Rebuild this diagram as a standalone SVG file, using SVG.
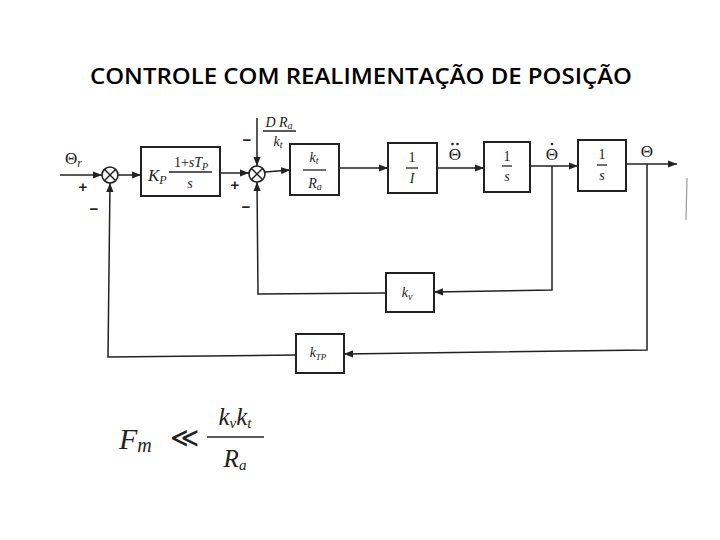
<svg xmlns="http://www.w3.org/2000/svg" width="720" height="540" viewBox="0 0 720 540">
<defs>
<marker id="ah" viewBox="0 0 10 10" refX="10" refY="5" markerWidth="9" markerHeight="9" markerUnits="userSpaceOnUse" orient="auto">
<path d="M0,1 L10,5 L0,9 Z" fill="#222"/>
</marker>
</defs>
<style>
.blk{fill:#fff;stroke:#222;stroke-width:2}
.sum{fill:#fff;stroke:#222;stroke-width:1.6}
.ln{fill:none;stroke:#222;stroke-width:1.5}
.ar{fill:none;stroke:#222;stroke-width:1.5;marker-end:url(#ah)}
.m{font-family:"Liberation Serif",serif;font-style:italic;fill:#222}
.n{font-family:"Liberation Serif",serif;fill:#222}
.sg{font-family:"Liberation Sans",sans-serif;font-weight:bold;fill:#222;font-size:15px}
.fr{stroke:#222;stroke-width:1.3}
.dot{fill:#222}
</style>
<rect width="720" height="540" fill="#fff"/>
<text x="361" y="84" text-anchor="middle" font-family="'Open Sans',sans-serif" font-weight="600" font-size="22" textLength="542" lengthAdjust="spacingAndGlyphs" fill="#000">CONTROLE COM REALIMENTAÇÃO DE POSIÇÃO</text>

<g id="connectors">
<line class="ar" x1="60" y1="175" x2="102" y2="175"/>
<line class="ar" x1="118" y1="175" x2="141" y2="175"/>
<line class="ar" x1="220" y1="173" x2="249" y2="173"/>
<line class="ar" x1="257" y1="118" x2="257" y2="166"/>
<line class="ar" x1="265" y1="172" x2="290" y2="170"/>
<line class="ar" x1="339" y1="168" x2="388" y2="168"/>
<line class="ar" x1="437" y1="168" x2="484" y2="168"/>
<line class="ar" x1="530" y1="166" x2="578" y2="166"/>
<line class="ar" x1="626" y1="164" x2="677" y2="164"/>
<polyline class="ar" points="552,166 552,290 434,292"/>
<polyline class="ar" points="386,293 258,294 257,182"/>
<polyline class="ar" points="647,164 647,350 344,354"/>
<polyline class="ar" points="296,355 108,357 110,183"/>
</g>

<g id="sum1">
<circle class="sum" cx="110" cy="175" r="8"/>
<line class="ln" x1="104.3" y1="169.3" x2="115.7" y2="180.7"/>
<line class="ln" x1="104.3" y1="180.7" x2="115.7" y2="169.3"/>
</g>
<g id="sum2">
<circle class="sum" cx="257" cy="174" r="8"/>
<line class="ln" x1="251.3" y1="168.3" x2="262.7" y2="179.7"/>
<line class="ln" x1="251.3" y1="179.7" x2="262.7" y2="168.3"/>
</g>

<g id="signs">
<text class="sg" x="83" y="192" text-anchor="middle">+</text>
<text class="sg" x="94" y="214" text-anchor="middle">−</text>
<text class="sg" x="235" y="190" text-anchor="middle">+</text>
<text class="sg" x="247" y="145" text-anchor="middle">−</text>
<text class="sg" x="246" y="212" text-anchor="middle">−</text>
</g>

<g id="labels">
<text class="n" x="65" y="164" font-size="17">Θ<tspan class="m" font-size="12" dy="3">r</tspan></text>
<text class="n" x="455" y="160" font-size="17" text-anchor="middle">Θ</text>
<circle class="dot" cx="452.5" cy="144" r="1.3"/>
<circle class="dot" cx="457.5" cy="144" r="1.3"/>
<text class="n" x="552" y="160" font-size="17" text-anchor="middle">Θ</text>
<circle class="dot" cx="552" cy="144" r="1.3"/>
<text class="n" x="647" y="157" font-size="17" text-anchor="middle">Θ</text>
</g>

<g id="disturbance">
<text class="m" x="279" y="127" font-size="14" text-anchor="middle">D R<tspan font-size="10" dy="2">a</tspan></text>
<line class="fr" x1="263" y1="131" x2="296" y2="131"/>
<text class="m" x="278" y="146" font-size="14" text-anchor="middle">k<tspan font-size="10" dy="2">t</tspan></text>
</g>

<g id="block-kp">
<rect class="blk" x="141" y="147" width="79" height="49"/>
<text class="m" x="148" y="181" font-size="17">K<tspan font-size="12" dy="3">P</tspan></text>
<text class="n" x="191" y="167" font-size="14" text-anchor="middle">1+<tspan font-style="italic">sT</tspan><tspan font-style="italic" font-size="10" dy="3">P</tspan></text>
<line class="fr" x1="169" y1="172" x2="212" y2="172"/>
<text class="m" x="190" y="188" font-size="14" text-anchor="middle">s</text>
</g>

<g id="block-ktra">
<rect class="blk" x="290" y="144" width="49" height="51"/>
<text class="m" x="314" y="162" font-size="14" text-anchor="middle">k<tspan font-size="10" dy="2">t</tspan></text>
<line class="fr" x1="303" y1="170" x2="326" y2="170"/>
<text class="m" x="315" y="188" font-size="14" text-anchor="middle">R<tspan font-size="10" dy="2">a</tspan></text>
</g>

<g id="block-inertia">
<rect class="blk" x="388" y="143" width="49" height="50"/>
<text class="n" x="412" y="162" font-size="14" text-anchor="middle">1</text>
<line class="fr" x1="406" y1="168" x2="418" y2="168"/>
<text class="m" x="412" y="183" font-size="14" text-anchor="middle">I</text>
</g>

<g id="block-int1">
<rect class="blk" x="484" y="142" width="46" height="50"/>
<text class="n" x="507" y="161" font-size="14" text-anchor="middle">1</text>
<line class="fr" x1="502" y1="166" x2="512" y2="166"/>
<text class="m" x="507" y="181" font-size="14" text-anchor="middle">s</text>
</g>

<g id="block-int2">
<rect class="blk" x="578" y="140" width="48" height="51"/>
<text class="n" x="602" y="159" font-size="14" text-anchor="middle">1</text>
<line class="fr" x1="597" y1="165" x2="607" y2="165"/>
<text class="m" x="602" y="180" font-size="14" text-anchor="middle">s</text>
</g>

<g id="block-kv">
<rect class="blk" x="386" y="273" width="48" height="39"/>
<text class="m" x="407" y="297" font-size="14" text-anchor="middle">k<tspan font-size="10" dy="3">v</tspan></text>
</g>

<g id="block-ktp">
<rect class="blk" x="296" y="334" width="48" height="39"/>
<text class="m" x="318" y="357" font-size="14" text-anchor="middle">k<tspan font-size="9" dy="3">TP</tspan></text>
</g>

<line x1="687" y1="178" x2="686" y2="220" stroke="#999" stroke-width="1.2"/>

<g id="formula">
<text class="m" x="119" y="449" font-size="30">F<tspan font-size="20" dy="3">m</tspan></text>
<text class="n" x="184" y="447" font-size="28" text-anchor="middle">≪</text>
<text class="m" x="235" y="425" font-size="25" text-anchor="middle">k<tspan font-size="15" dy="3">v</tspan><tspan dy="-3">k</tspan><tspan font-size="15" dy="3">t</tspan></text>
<line x1="207" y1="437" x2="264" y2="437" stroke="#222" stroke-width="1.6"/>
<text class="m" x="235" y="467" font-size="25" text-anchor="middle">R<tspan font-size="15" dy="3">a</tspan></text>
</g>
</svg>
